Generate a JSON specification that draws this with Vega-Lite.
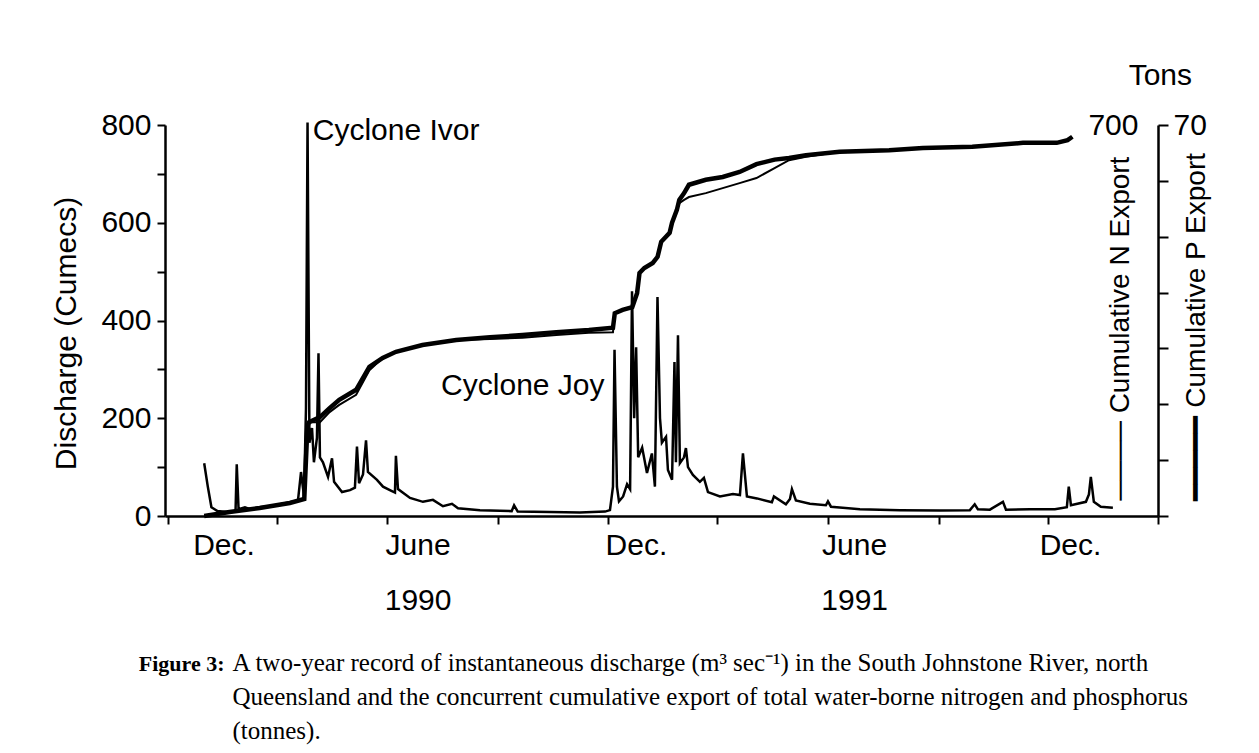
{
  "$schema": "https://vega.github.io/schema/vega-lite/v6.json",
  "autosize": "none",
  "padding": {"left": 165, "top": 125, "right": 101, "bottom": 237},
  "width": 993,
  "height": 391,
  "background": "white",
  "title": {"text": "Tons", "anchor": "end", "frame": "group", "dx": 34, "dy": 48, "offset": 43, "baseline": "alphabetic", "font": "Liberation Sans", "fontSize": 30, "fontWeight": "normal", "color": "black"},
  "config": {
    "view": {"stroke": null},
    "axis": {"labelFont": "Liberation Sans", "titleFont": "Liberation Sans", "labelColor": "black", "titleColor": "black", "domainColor": "black", "tickColor": "black", "grid": false, "titleFontWeight": "normal", "labelFontSize": 30, "titleFontSize": 30, "domainWidth": 2.5, "tickWidth": 2},
    "text": {"font": "Liberation Sans", "fontSize": 30, "color": "black"}
  },
  "datasets": {
    "discharge": [
      {"date": "1989-12-31T00:00", "cumecs": 108},
      {"date": "1990-01-03T00:00", "cumecs": 60},
      {"date": "1990-01-06T00:00", "cumecs": 18},
      {"date": "1990-01-11T00:00", "cumecs": 10},
      {"date": "1990-01-19T00:00", "cumecs": 8},
      {"date": "1990-01-26T00:00", "cumecs": 10},
      {"date": "1990-01-27T00:00", "cumecs": 106},
      {"date": "1990-01-28T12:00", "cumecs": 14},
      {"date": "1990-02-02T19:00", "cumecs": 18},
      {"date": "1990-02-07T00:00", "cumecs": 14},
      {"date": "1990-02-15T00:00", "cumecs": 18},
      {"date": "1990-02-23T12:00", "cumecs": 20},
      {"date": "1990-03-03T22:00", "cumecs": 24},
      {"date": "1990-03-12T05:00", "cumecs": 28},
      {"date": "1990-03-18T19:00", "cumecs": 32},
      {"date": "1990-03-21T07:00", "cumecs": 90},
      {"date": "1990-03-23T19:00", "cumecs": 40},
      {"date": "1990-03-25T10:00", "cumecs": 220},
      {"date": "1990-03-26T17:00", "cumecs": 805},
      {"date": "1990-03-28T07:00", "cumecs": 150},
      {"date": "1990-03-30T10:00", "cumecs": 180},
      {"date": "1990-04-01T00:00", "cumecs": 110},
      {"date": "1990-04-03T12:00", "cumecs": 160},
      {"date": "1990-04-04T19:00", "cumecs": 333},
      {"date": "1990-04-06T00:00", "cumecs": 120},
      {"date": "1990-04-08T12:00", "cumecs": 110},
      {"date": "1990-04-12T17:00", "cumecs": 80},
      {"date": "1990-04-16T00:00", "cumecs": 118},
      {"date": "1990-04-17T17:00", "cumecs": 70},
      {"date": "1990-04-24T07:00", "cumecs": 49},
      {"date": "1990-04-30T22:00", "cumecs": 53},
      {"date": "1990-05-05T00:00", "cumecs": 58},
      {"date": "1990-05-06T17:00", "cumecs": 142},
      {"date": "1990-05-08T10:00", "cumecs": 67},
      {"date": "1990-05-11T17:00", "cumecs": 85},
      {"date": "1990-05-14T05:00", "cumecs": 155},
      {"date": "1990-05-15T19:00", "cumecs": 90},
      {"date": "1990-05-23T07:00", "cumecs": 74},
      {"date": "1990-05-28T07:00", "cumecs": 60},
      {"date": "1990-06-03T00:00", "cumecs": 53},
      {"date": "1990-06-07T05:00", "cumecs": 48},
      {"date": "1990-06-08T00:00", "cumecs": 123},
      {"date": "1990-06-09T17:00", "cumecs": 55},
      {"date": "1990-06-19T17:00", "cumecs": 37},
      {"date": "1990-06-30T10:00", "cumecs": 29},
      {"date": "1990-07-08T17:00", "cumecs": 33},
      {"date": "1990-07-17T00:00", "cumecs": 20},
      {"date": "1990-07-24T12:00", "cumecs": 25},
      {"date": "1990-07-29T12:00", "cumecs": 16},
      {"date": "1990-08-16T17:00", "cumecs": 12},
      {"date": "1990-09-12T00:00", "cumecs": 10},
      {"date": "1990-09-14T00:00", "cumecs": 22},
      {"date": "1990-09-17T00:00", "cumecs": 9},
      {"date": "1990-10-13T17:00", "cumecs": 8},
      {"date": "1990-11-07T14:00", "cumecs": 7},
      {"date": "1990-11-28T10:00", "cumecs": 9},
      {"date": "1990-12-02T12:00", "cumecs": 12},
      {"date": "1990-12-05T00:00", "cumecs": 60},
      {"date": "1990-12-06T07:00", "cumecs": 340},
      {"date": "1990-12-08T07:00", "cumecs": 60},
      {"date": "1990-12-10T00:00", "cumecs": 30},
      {"date": "1990-12-13T10:00", "cumecs": 40},
      {"date": "1990-12-16T17:00", "cumecs": 65},
      {"date": "1990-12-19T05:00", "cumecs": 55},
      {"date": "1990-12-20T19:00", "cumecs": 460},
      {"date": "1990-12-22T14:00", "cumecs": 200},
      {"date": "1990-12-24T05:00", "cumecs": 345},
      {"date": "1990-12-25T22:00", "cumecs": 120},
      {"date": "1990-12-29T05:00", "cumecs": 140},
      {"date": "1991-01-02T05:00", "cumecs": 88},
      {"date": "1991-01-06T07:00", "cumecs": 128},
      {"date": "1991-01-08T19:00", "cumecs": 60},
      {"date": "1991-01-10T22:00", "cumecs": 448},
      {"date": "1991-01-13T00:00", "cumecs": 200},
      {"date": "1991-01-14T14:00", "cumecs": 150},
      {"date": "1991-01-18T00:00", "cumecs": 162},
      {"date": "1991-01-19T14:00", "cumecs": 94},
      {"date": "1991-01-23T00:00", "cumecs": 74},
      {"date": "1991-01-25T00:00", "cumecs": 315},
      {"date": "1991-01-26T05:00", "cumecs": 110},
      {"date": "1991-01-27T22:00", "cumecs": 370},
      {"date": "1991-01-29T12:00", "cumecs": 108},
      {"date": "1991-02-01T22:00", "cumecs": 120},
      {"date": "1991-02-03T12:00", "cumecs": 139},
      {"date": "1991-02-05T05:00", "cumecs": 100},
      {"date": "1991-02-09T07:00", "cumecs": 84},
      {"date": "1991-02-15T02:00", "cumecs": 70},
      {"date": "1991-02-18T10:00", "cumecs": 78},
      {"date": "1991-02-21T19:00", "cumecs": 49},
      {"date": "1991-03-03T17:00", "cumecs": 40},
      {"date": "1991-03-14T12:00", "cumecs": 45},
      {"date": "1991-03-20T07:00", "cumecs": 43},
      {"date": "1991-03-22T19:00", "cumecs": 128},
      {"date": "1991-03-26T02:00", "cumecs": 40},
      {"date": "1991-04-03T10:00", "cumecs": 36},
      {"date": "1991-04-15T19:00", "cumecs": 28},
      {"date": "1991-04-17T12:00", "cumecs": 40},
      {"date": "1991-04-27T10:00", "cumecs": 24},
      {"date": "1991-04-30T19:00", "cumecs": 35},
      {"date": "1991-05-02T10:00", "cumecs": 55},
      {"date": "1991-05-05T17:00", "cumecs": 32},
      {"date": "1991-05-17T07:00", "cumecs": 25},
      {"date": "1991-05-30T14:00", "cumecs": 22},
      {"date": "1991-06-01T07:00", "cumecs": 30},
      {"date": "1991-06-03T19:00", "cumecs": 19},
      {"date": "1991-06-27T19:00", "cumecs": 14},
      {"date": "1991-07-31T00:00", "cumecs": 12},
      {"date": "1991-09-02T00:00", "cumecs": 11},
      {"date": "1991-09-27T00:00", "cumecs": 12},
      {"date": "1991-10-01T00:00", "cumecs": 24},
      {"date": "1991-10-03T14:00", "cumecs": 14},
      {"date": "1991-10-13T14:00", "cumecs": 13},
      {"date": "1991-10-24T10:00", "cumecs": 29},
      {"date": "1991-10-26T22:00", "cumecs": 13},
      {"date": "1991-11-15T19:00", "cumecs": 14},
      {"date": "1991-12-06T12:00", "cumecs": 14},
      {"date": "1991-12-16T10:00", "cumecs": 18},
      {"date": "1991-12-18T00:00", "cumecs": 60},
      {"date": "1991-12-19T19:00", "cumecs": 22},
      {"date": "1992-01-01T05:00", "cumecs": 29},
      {"date": "1992-01-03T17:00", "cumecs": 44},
      {"date": "1992-01-05T07:00", "cumecs": 80},
      {"date": "1992-01-07T19:00", "cumecs": 29},
      {"date": "1992-01-13T14:00", "cumecs": 19},
      {"date": "1992-01-23T14:00", "cumecs": 17}
    ],
    "cum": [
      {"date": "1989-12-31T00:00", "N": 0, "P": 0},
      {"date": "1990-01-21T00:00", "N": 7, "P": 0.72},
      {"date": "1990-02-15T00:00", "N": 14, "P": 1.43},
      {"date": "1990-03-12T00:00", "N": 23, "P": 2.33},
      {"date": "1990-03-24T00:00", "N": 30, "P": 3.04},
      {"date": "1990-03-26T12:00", "N": 150, "P": 15.5},
      {"date": "1990-03-27T00:00", "N": 163, "P": 16.3},
      {"date": "1990-03-28T00:00", "N": 168, "P": 16.8},
      {"date": "1990-04-06T00:00", "N": 168, "P": 17.7},
      {"date": "1990-04-14T00:00", "N": 186, "P": 19.3},
      {"date": "1990-04-22T00:00", "N": 199, "P": 20.8},
      {"date": "1990-05-06T00:00", "N": 217, "P": 22.6},
      {"date": "1990-05-17T00:00", "N": 261, "P": 26.7},
      {"date": "1990-05-28T00:00", "N": 283, "P": 28.3},
      {"date": "1990-06-08T00:00", "N": 294, "P": 29.4},
      {"date": "1990-06-30T00:00", "N": 306, "P": 30.6},
      {"date": "1990-07-28T00:00", "N": 315, "P": 31.5},
      {"date": "1990-08-25T00:00", "N": 317, "P": 32.0},
      {"date": "1990-09-21T00:00", "N": 319, "P": 32.4},
      {"date": "1990-10-19T00:00", "N": 324, "P": 32.9},
      {"date": "1990-11-15T00:00", "N": 328, "P": 33.3},
      {"date": "1990-12-05T00:00", "N": 329, "P": 33.7},
      {"date": "1990-12-06T12:00", "N": 363, "P": 36.3},
      {"date": "1990-12-13T00:00", "N": 369, "P": 36.9},
      {"date": "1990-12-21T00:00", "N": 374, "P": 37.4},
      {"date": "1990-12-25T00:00", "N": 399, "P": 39.9},
      {"date": "1990-12-27T00:00", "N": 435, "P": 43.5},
      {"date": "1990-12-31T00:00", "N": 444, "P": 44.4},
      {"date": "1991-01-07T00:00", "N": 453, "P": 45.3},
      {"date": "1991-01-11T00:00", "N": 464, "P": 46.4},
      {"date": "1991-01-14T00:00", "N": 490, "P": 49.1},
      {"date": "1991-01-21T00:00", "N": 507, "P": 50.7},
      {"date": "1991-01-23T00:00", "N": 524, "P": 52.5},
      {"date": "1991-01-27T00:00", "N": 548, "P": 54.8},
      {"date": "1991-01-29T00:00", "N": 560, "P": 56.6},
      {"date": "1991-02-02T00:00", "N": 566, "P": 57.8},
      {"date": "1991-02-06T00:00", "N": 571, "P": 59.3},
      {"date": "1991-02-20T00:00", "N": 578, "P": 60.2},
      {"date": "1991-03-06T00:00", "N": 587, "P": 60.7},
      {"date": "1991-03-20T00:00", "N": 596, "P": 61.6},
      {"date": "1991-04-03T00:00", "N": 605, "P": 63.0},
      {"date": "1991-04-18T00:00", "N": 623, "P": 63.8},
      {"date": "1991-04-30T00:00", "N": 637, "P": 64.1},
      {"date": "1991-05-14T00:00", "N": 643, "P": 64.6},
      {"date": "1991-06-11T00:00", "N": 652, "P": 65.2},
      {"date": "1991-07-22T00:00", "N": 655, "P": 65.5},
      {"date": "1991-08-19T00:00", "N": 659, "P": 65.9},
      {"date": "1991-09-29T00:00", "N": 661, "P": 66.1},
      {"date": "1991-11-10T00:00", "N": 668, "P": 66.8},
      {"date": "1991-12-08T00:00", "N": 668, "P": 66.8},
      {"date": "1991-12-17T00:00", "N": 673, "P": 67.3},
      {"date": "1991-12-21T00:00", "N": 678, "P": 67.9}
    ]
  },
  "resolve": {"scale": {"y": "independent"}, "axis": {"x": "independent", "y": "independent"}},
  "layer": [
    {
      "layer": [
        {
          "data": {"name": "discharge"},
          "mark": {"type": "line", "color": "black", "strokeWidth": 2.5},
          "encoding": {
            "x": {
              "field": "date", "type": "temporal",
              "scale": {"domain": [{"year": 1989, "month": 11, "date": 28, "hours": 12}, {"year": 1992, "month": 3, "date": 1}]},
              "axis": {
                "orient": "bottom",
                "values": [
                  {"year": 1989, "month": 12, "date": 1}, {"year": 1990, "month": 3, "date": 1}, {"year": 1990, "month": 6, "date": 1},
                  {"year": 1990, "month": 9, "date": 1}, {"year": 1990, "month": 12, "date": 1}, {"year": 1991, "month": 3, "date": 1},
                  {"year": 1991, "month": 6, "date": 1}, {"year": 1991, "month": 9, "date": 1}, {"year": 1991, "month": 12, "date": 1},
                  {"year": 1992, "month": 3, "date": 1}
                ],
                "labels": false, "tickSize": 8,
                "title": "Figure 3:", "titleX": 59, "titleY": 154, "titleAlign": "right", "titleBaseline": "alphabetic",
                "titleFont": "Liberation Serif", "titleFontSize": 22, "titleFontWeight": "bold"
              }
            },
            "y": {
              "field": "cumecs", "type": "quantitative",
              "scale": {"domain": [0, 800]},
              "axis": {
                "values": [0, 100, 200, 300, 400, 500, 600, 700, 800],
                "labelExpr": "datum.value % 200 == 0 ? datum.label : ''",
                "tickSize": 8, "labelPadding": 6,
                "title": "Discharge (Cumecs)", "titleAngle": 270, "titleX": -99, "titleY": 208, "titleAlign": "center", "titleBaseline": "middle"
              }
            }
          }
        },
        {
          "data": {"values": [{"date": "1990-03-31T00:00", "cumecs": 769, "note": "Cyclone Ivor"}]},
          "mark": {"type": "text", "align": "left", "baseline": "alphabetic"},
          "encoding": {
            "x": {"field": "date", "type": "temporal"},
            "y": {"field": "cumecs", "type": "quantitative"},
            "text": {"field": "note"}
          }
        },
        {
          "data": {"values": [{"date": "1990-11-28T00:00", "cumecs": 247, "note": "Cyclone Joy"}]},
          "mark": {"type": "text", "align": "right", "baseline": "alphabetic"},
          "encoding": {
            "x": {"field": "date", "type": "temporal"},
            "y": {"field": "cumecs", "type": "quantitative"},
            "text": {"field": "note"}
          }
        }
      ]
    },
    {
      "data": {"name": "cum"},
      "mark": {"type": "line", "color": "black", "strokeWidth": 2},
      "encoding": {
        "x": {
          "field": "date", "type": "temporal",
          "axis": {
            "orient": "bottom",
            "values": [
              {"year": 1990, "month": 1, "date": 16}, {"year": 1990, "month": 6, "date": 26}, {"year": 1990, "month": 12, "date": 24},
              {"year": 1991, "month": 6, "date": 23}, {"year": 1991, "month": 12, "date": 19}
            ],
            "labelExpr": "month(datum.value) == 5 ? ['June', timeFormat(datum.value, '%Y')] : 'Dec.'",
            "ticks": false, "tickSize": 0, "domain": false, "labelPadding": 14, "labelLineHeight": 55,
            "labelOverlap": false, "labelFlush": false,
            "title": [
              "A two-year record of instantaneous discharge (m³ sec⁻¹) in the South Johnstone River, north",
              "Queensland and the concurrent cumulative export of total water-borne nitrogen and phosphorus",
              "(tonnes)."
            ],
            "titleX": 67, "titleY": 154, "titleAlign": "left", "titleBaseline": "alphabetic",
            "titleFont": "Liberation Serif", "titleFontSize": 25, "titleLineHeight": 34
          }
        },
        "y": {
          "field": "N", "type": "quantitative",
          "scale": {"domain": [0, 700]},
          "axis": {
            "orient": "right",
            "values": [0, 100, 200, 300, 400, 500, 600, 700],
            "labelExpr": "datum.value == 700 ? '700' : ''",
            "tickSize": 10, "labelAlign": "right", "labelPadding": -30,
            "title": "──── Cumulative N Export", "titleAngle": 270, "titleX": -38, "titleY": 375,
            "titleAlign": "left", "titleBaseline": "middle", "titleFontSize": 28
          }
        }
      }
    },
    {
      "data": {"name": "cum"},
      "mark": {"type": "line", "color": "black", "strokeWidth": 4.5},
      "encoding": {
        "x": {"field": "date", "type": "temporal", "axis": null},
        "y": {
          "field": "P", "type": "quantitative",
          "scale": {"domain": [0, 70]},
          "axis": {
            "orient": "right",
            "values": [70],
            "ticks": false, "tickSize": 0, "domain": false, "labelPadding": 15,
            "title": "━━━━━ Cumulative P Export", "titleAngle": 270, "titleX": 38, "titleY": 375,
            "titleAlign": "left", "titleBaseline": "middle", "titleFontSize": 28
          }
        }
      }
    }
  ]
}
